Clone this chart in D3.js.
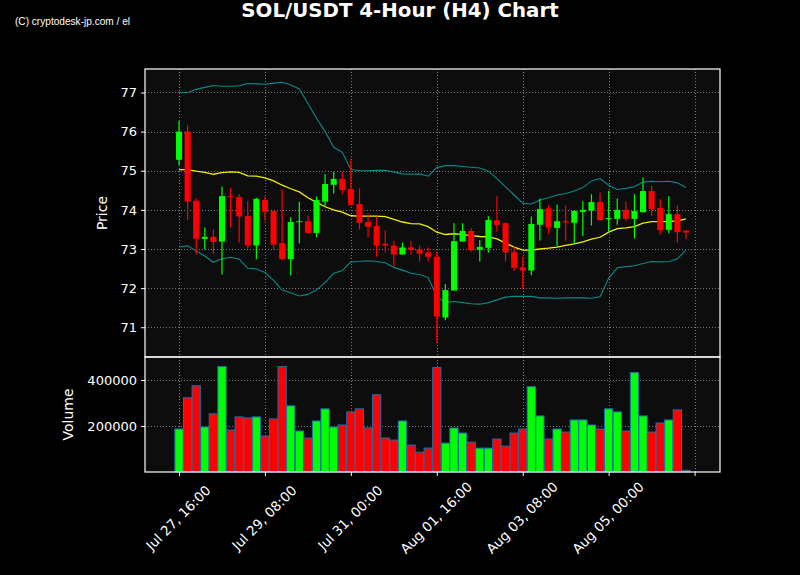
<!DOCTYPE html>
<html>
<head>
<meta charset="utf-8">
<script src="https://cdn.jsdelivr.net/npm/d3@7"></script>
<style>
  html, body { margin: 0; padding: 0; background: #000; }
  svg { display: block; }
</style>
</head>
<body>
<svg id="chart" width="800" height="575"></svg>
<script>
// ---- data ----
const openP = [75.28,76.00,74.23,73.26,73.31,73.19,74.35,74.33,73.84,73.09,
  74.25,73.97,73.15,72.74,73.69,73.71,73.41,74.21,74.64,74.79,
  74.53,74.15,73.69,73.59,73.13,73.09,72.86,73.04,72.99,72.91,
  72.80,71.25,71.94,73.19,73.46,72.98,73.03,73.73,73.66,72.92,
  72.53,72.45,73.62,74.04,73.54,73.71,73.67,73.95,73.98,74.20,
  73.76,73.77,74.00,73.77,73.94,74.48,74.05,73.49,73.89,73.47];
const highP = [76.27,76.16,74.29,73.55,73.50,74.60,74.57,74.40,74.22,74.31,
  74.34,73.97,74.52,73.81,74.21,73.86,74.34,74.91,74.97,74.97,
  75.30,74.55,73.91,73.83,73.47,73.21,73.16,73.21,73.09,73.04,
  72.93,72.10,73.66,73.66,73.53,73.23,73.84,74.35,73.68,73.06,
  72.80,73.83,74.29,74.12,74.14,74.11,73.99,74.22,74.40,74.44,
  74.49,74.29,74.21,74.40,74.83,74.61,74.27,74.35,74.12,73.47];
const lowP = [75.14,73.74,72.86,72.99,72.89,72.35,73.55,73.16,73.02,72.74,
  73.72,72.99,72.72,72.32,73.14,73.39,73.30,74.08,74.42,74.40,
  74.12,73.50,73.30,72.80,72.91,72.55,72.86,72.85,72.69,72.69,
  70.59,71.18,71.94,73.19,72.93,72.68,72.91,73.44,72.68,72.44,
  71.97,72.33,73.22,73.38,73.06,73.21,73.12,73.33,73.60,73.72,
  73.44,73.62,73.71,73.27,73.93,73.85,73.37,73.40,73.16,73.25];
const closeP = [76.00,74.21,73.26,73.31,73.18,74.35,74.33,73.83,73.09,74.28,
  73.95,73.11,72.74,73.69,73.71,73.41,74.25,74.66,74.79,74.51,
  74.13,73.67,73.57,73.09,73.09,72.86,73.04,72.98,72.88,72.80,
  71.27,71.95,73.20,73.46,72.97,73.05,73.74,73.61,72.91,72.52,
  72.45,73.64,74.02,73.55,73.71,73.68,73.97,74.00,74.20,73.74,
  73.79,74.00,73.77,73.97,74.48,74.02,73.48,73.89,73.43,73.42];
const volume = [187000,322600,375200,195600,252600,458400,182500,239400,235000,239400,
  156200,230700,458400,287600,178100,147500,221900,274500,195600,204400,
  261300,274500,191300,335800,147500,138700,221900,116800,86100,103700,
  454000,125600,191300,169400,129900,103700,103700,143100,112400,169400,
  186900,370800,243800,143100,186900,173700,226300,226300,204400,186900,
  274500,261300,178100,432200,243800,173700,213200,226300,270100,7300];
const smaLine = [75.03,75.03,74.99,74.96,74.91,74.95,74.97,74.96,74.87,74.86,
  74.82,74.74,74.63,74.54,74.46,74.31,74.19,74.08,74.00,73.94,
  73.85,73.84,73.84,73.84,73.83,73.76,73.69,73.65,73.64,73.57,
  73.43,73.37,73.39,73.37,73.34,73.32,73.31,73.26,73.15,73.05,
  72.97,72.97,73.00,73.02,73.05,73.09,73.13,73.18,73.25,73.30,
  73.43,73.52,73.54,73.57,73.66,73.70,73.70,73.70,73.72,73.77];
const upperBand = [77.00,77.00,77.08,77.13,77.18,77.16,77.16,77.17,77.23,77.22,
  77.21,77.24,77.26,77.19,77.09,76.72,76.34,76.00,75.60,75.47,
  75.03,75.00,75.00,75.01,75.01,74.97,74.92,74.91,74.92,74.86,
  75.08,75.13,75.13,75.11,75.09,75.07,74.99,74.80,74.59,74.38,
  74.17,74.15,74.25,74.31,74.38,74.42,74.48,74.57,74.74,74.80,
  74.63,74.52,74.55,74.59,74.71,74.73,74.72,74.73,74.69,74.57];
const lowerBand = [73.05,73.08,72.95,72.82,72.66,72.75,72.79,72.74,72.51,72.49,
  72.40,72.20,71.95,71.88,71.80,71.84,71.95,72.14,72.38,72.45,
  72.67,72.68,72.70,72.68,72.65,72.53,72.46,72.38,72.35,72.27,
  71.78,71.63,71.66,71.63,71.60,71.59,71.63,71.70,71.77,71.79,
  71.79,71.79,71.75,71.75,71.74,71.75,71.75,71.75,71.74,71.78,
  72.25,72.52,72.55,72.57,72.63,72.68,72.67,72.68,72.75,72.97];
const xTickIndex = [0,10,20,30,40,50,60];
const xTickLabels = ["Jul 27, 16:00","Jul 29, 08:00","Jul 31, 00:00","Aug 01, 16:00","Aug 03, 08:00","Aug 05, 00:00",""];
const priceTicks = [71,72,73,74,75,76,77];
const volumeTicks = [200000,400000];
const titleText = "SOL/USDT 4-Hour (H4) Chart";
const watermark = "(C) cryptodesk-jp.com / el";

// ---- layout ----
const svg = d3.select("#chart");
const L = 145, R = 720, pTop = 69, pBot = 357, vTop = 357, vBot = 472;
const n = closeP.length;
const x = d3.scaleLinear().domain([-3.96, 62.96]).range([L, R]);
const step = x(1) - x(0);
const yP = d3.scaleLinear().domain([70.24, 77.60]).range([pBot, pTop]);
const yV = d3.scaleLinear().domain([0, 500000]).range([vBot, vTop]);
const GREEN = "#00ff00", RED = "#ff0000";
const idx = d3.range(n);
const col = i => closeP[i] >= openP[i] ? GREEN : RED;

svg.append("rect").attr("width", 800).attr("height", 575).attr("fill", "#000");
svg.append("rect").attr("x", L).attr("y", pTop).attr("width", R - L).attr("height", pBot - pTop).attr("fill", "#0d0d0d");
svg.append("rect").attr("x", L).attr("y", vTop).attr("width", R - L).attr("height", vBot - vTop).attr("fill", "#0d0d0d");

// grid
const grid = svg.append("g").attr("stroke", "#b0b0b0").attr("stroke-opacity", 0.75)
  .attr("stroke-width", 0.9).attr("stroke-dasharray", "1,2");
xTickIndex.forEach(t => {
  const xx = Math.round(x(t)) + 0.5;
  if (xx > L && xx < R) {
    grid.append("line").attr("x1", xx).attr("x2", xx).attr("y1", pTop).attr("y2", pBot);
    grid.append("line").attr("x1", xx).attr("x2", xx).attr("y1", vTop).attr("y2", vBot);
  }
});
priceTicks.forEach(t => {
  const yy = Math.round(yP(t)) + 0.5;
  grid.append("line").attr("x1", L).attr("x2", R).attr("y1", yy).attr("y2", yy);
});
volumeTicks.forEach(t => {
  const yy = Math.round(yV(t)) + 0.5;
  grid.append("line").attr("x1", L).attr("x2", R).attr("y1", yy).attr("y2", yy);
});

// bands & sma
const line = arr => d3.line().x(i => x(i)).y(i => yP(arr[i]))(idx);
svg.append("path").attr("d", line(upperBand)).attr("fill", "none").attr("stroke", "#0b8a8a").attr("stroke-width", 1.1);
svg.append("path").attr("d", line(lowerBand)).attr("fill", "none").attr("stroke", "#0b8a8a").attr("stroke-width", 1.1);
svg.append("path").attr("d", line(smaLine)).attr("fill", "none").attr("stroke", "#f0f000").attr("stroke-width", 1.3);

// candles
const cg = svg.append("g");
cg.selectAll("line.wick").data(idx).join("line")
  .attr("x1", i => x(i)).attr("x2", i => x(i))
  .attr("y1", i => yP(highP[i])).attr("y2", i => yP(lowP[i]))
  .attr("stroke", col).attr("stroke-width", 1.2);
const bw = step * 0.7;
cg.selectAll("rect.body").data(idx).join("rect")
  .attr("x", i => x(i) - bw / 2).attr("width", bw)
  .attr("y", i => yP(Math.max(openP[i], closeP[i])))
  .attr("height", i => Math.max(1, Math.abs(yP(openP[i]) - yP(closeP[i]))))
  .attr("fill", col);

// volume
const vw = step * 0.96;
svg.append("g").selectAll("rect").data(idx).join("rect")
  .attr("x", i => x(i) - vw / 2).attr("width", vw)
  .attr("y", i => yV(volume[i])).attr("height", i => vBot - yV(volume[i]))
  .attr("fill", col).attr("stroke", "#1f6fae").attr("stroke-width", 1);

// spines
svg.append("rect").attr("x", L).attr("y", pTop).attr("width", R - L).attr("height", pBot - pTop)
  .attr("fill", "none").attr("stroke", "#fff").attr("stroke-width", 1.2);
svg.append("rect").attr("x", L).attr("y", vTop).attr("width", R - L).attr("height", vBot - vTop)
  .attr("fill", "none").attr("stroke", "#fff").attr("stroke-width", 1.2);

// axes
const axisStyle = g => {
  g.select(".domain").remove();
  g.selectAll(".tick line").attr("stroke", "#fff");
  g.selectAll(".tick text").attr("fill", "#fff").attr("font-family", "DejaVu Sans").attr("font-size", 13);
};
svg.append("g").attr("transform", `translate(${L},0)`)
  .call(d3.axisLeft(yP).tickValues(priceTicks).tickFormat(d3.format("d")).tickSize(4).tickPadding(4))
  .call(axisStyle);
svg.append("g").attr("transform", `translate(${L},0)`)
  .call(d3.axisLeft(yV).tickValues(volumeTicks).tickFormat(d3.format("d")).tickSize(4).tickPadding(4))
  .call(axisStyle);
const xa = svg.append("g").attr("transform", `translate(0,${vBot})`)
  .call(d3.axisBottom(x).tickValues(xTickIndex).tickFormat((d, k) => xTickLabels[k]).tickSize(4))
  .call(axisStyle);
xa.selectAll(".tick text")
  .attr("font-size", 13.4)
  .attr("text-anchor", "middle").attr("dy", null).attr("y", null)
  .attr("dominant-baseline", "central")
  .attr("transform", "translate(-1,46) rotate(-45)");

// axis titles
svg.append("text").attr("transform", `translate(107,${(pTop + pBot) / 2}) rotate(-90)`)
  .attr("text-anchor", "middle").attr("fill", "#fff").attr("font-family", "DejaVu Sans").attr("font-size", 14)
  .text("Price");
svg.append("text").attr("transform", `translate(73,${(vTop + vBot) / 2}) rotate(-90)`)
  .attr("text-anchor", "middle").attr("fill", "#fff").attr("font-family", "DejaVu Sans").attr("font-size", 14)
  .text("Volume");

// title & watermark
svg.append("text").attr("x", 400).attr("y", 17).attr("text-anchor", "middle")
  .attr("fill", "#fff").attr("font-family", "DejaVu Sans").attr("font-weight", "bold").attr("font-size", 19.8)
  .text(titleText);
svg.append("text").attr("x", 15).attr("y", 25).attr("fill", "#fff")
  .attr("font-family", "Liberation Sans").attr("font-size", 11)
  .attr("textLength", 115).attr("lengthAdjust", "spacingAndGlyphs")
  .text(watermark);
</script>
</body>
</html>
